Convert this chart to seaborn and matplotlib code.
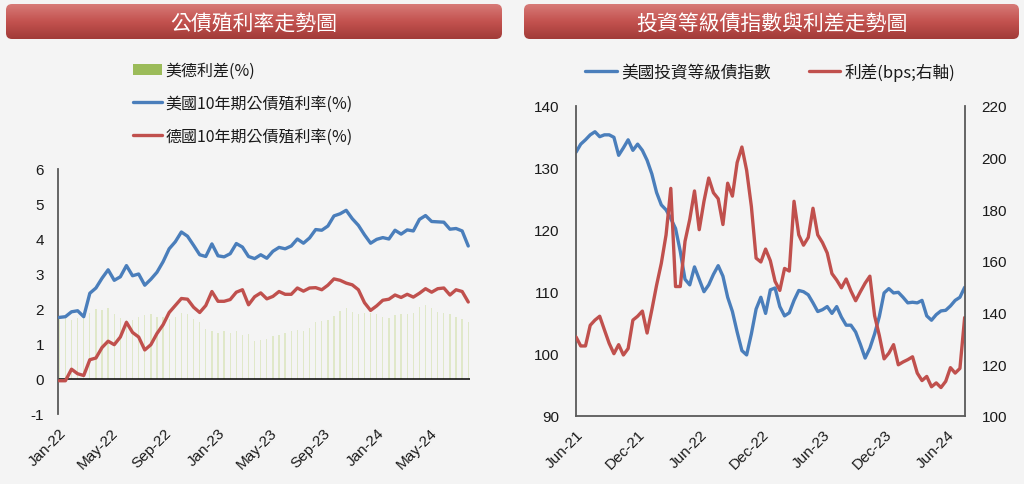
import numpy as np
import pandas as pd
import matplotlib
matplotlib.use("Agg")
import matplotlib.pyplot as plt
import seaborn as sns
from matplotlib.patches import FancyBboxPatch, Patch
from matplotlib.lines import Line2D
from matplotlib.colors import LinearSegmentedColormap

# ---------------- data: left chart (biweekly) ----------------
left_dates = pd.date_range("2022-01-03", periods=68, freq="14D")
us_yield = [1.76, 1.78, 1.92, 1.95, 1.78, 2.45, 2.60, 2.88, 3.12, 2.82,
            2.92, 3.24, 2.95, 3.00, 2.68, 2.85, 3.05, 3.35, 3.72, 3.92,
            4.20, 4.08, 3.82, 3.55, 3.50, 3.86, 3.52, 3.49, 3.58, 3.87,
            3.77, 3.50, 3.44, 3.55, 3.45, 3.65, 3.76, 3.72, 3.80, 4.00,
            3.88, 4.03, 4.27, 4.25, 4.37, 4.66, 4.72, 4.82, 4.58, 4.39,
            4.12, 3.88, 3.99, 4.04, 4.00, 4.25, 4.14, 4.26, 4.23, 4.56,
            4.67, 4.50, 4.49, 4.48, 4.28, 4.30, 4.23, 3.80]
de_yield = [-0.05, -0.05, 0.28, 0.15, 0.10, 0.55, 0.60, 0.90, 1.08, 0.98,
            1.20, 1.62, 1.33, 1.20, 0.83, 0.98, 1.30, 1.55, 1.90, 2.10,
            2.30, 2.28, 2.05, 1.90, 2.10, 2.50, 2.22, 2.22, 2.27, 2.48,
            2.55, 2.12, 2.35, 2.46, 2.29, 2.36, 2.50, 2.42, 2.42, 2.60,
            2.51, 2.60, 2.61, 2.55, 2.68, 2.86, 2.82, 2.74, 2.69, 2.55,
            2.18, 1.96, 2.09, 2.25, 2.28, 2.40, 2.33, 2.42, 2.34, 2.45,
            2.58, 2.48, 2.58, 2.60, 2.40, 2.55, 2.50, 2.20]
us_de_spread = [1.75, 1.78, 1.70, 1.75, 1.78, 1.90, 2.00, 1.98, 2.02, 1.85,
                1.75, 1.68, 1.70, 1.78, 1.82, 1.86, 1.78, 1.76, 1.72, 1.78,
                1.88, 1.85, 1.72, 1.62, 1.42, 1.36, 1.32, 1.36, 1.32, 1.38,
                1.25, 1.30, 1.10, 1.12, 1.15, 1.22, 1.26, 1.32, 1.38, 1.40,
                1.38, 1.45, 1.62, 1.66, 1.70, 1.80, 1.95, 2.02, 1.92, 1.86,
                1.90, 1.90, 1.85, 1.78, 1.75, 1.82, 1.85, 1.86, 1.88, 2.05,
                2.12, 2.02, 1.92, 1.90, 1.86, 1.78, 1.72, 1.62]
left_tick_dates = ["2022-01-01", "2022-05-01", "2022-09-01", "2023-01-01",
                   "2023-05-01", "2023-09-01", "2024-01-01", "2024-05-01"]
left_tick_labels = ["Jan-22", "May-22", "Sep-22", "Jan-23",
                    "May-23", "Sep-23", "Jan-24", "May-24"]
left_yticks = [-1, 0, 1, 2, 3, 4, 5, 6]

# ---------------- data: right chart (biweekly) ----------------
right_dates = pd.date_range("2021-06-01", periods=83, freq="14D")
ig_index = [132.5, 133.8, 134.5, 135.3, 135.8, 135.0, 135.3, 135.3, 134.9, 132.0,
            133.2, 134.5, 132.8, 133.8, 132.8, 131.2, 129.0, 126.0, 124.0, 123.2,
            121.8, 120.2, 116.5, 112.0, 111.1, 114.0, 112.0, 110.0, 111.1, 112.8,
            114.2, 112.5, 109.1, 106.8, 103.5, 100.5, 99.8, 103.2, 107.2, 109.1,
            106.5, 110.3, 110.6, 107.6, 106.1, 106.6, 108.6, 110.2, 110.0, 109.5,
            108.2, 106.8, 107.1, 107.6, 106.5, 107.6, 105.9, 104.6, 104.6, 103.5,
            101.5, 99.3, 100.9, 103.2, 106.0, 109.8, 110.5, 109.8, 109.9, 109.1,
            108.2, 108.3, 108.2, 108.6, 106.1, 105.4, 106.3, 106.9, 107.0, 107.7,
            108.6, 109.1, 110.7]
ig_spread_bps = [130.5, 127.0, 127.0, 135.0, 137.0, 138.5, 133.2, 128.0, 124.0, 127.5,
                 123.5, 126.0, 137.0, 138.5, 140.5, 132.0, 141.0, 150.5, 159.0, 170.0,
                 188.0, 150.0, 150.0, 167.5, 176.0, 187.0, 172.0, 183.0, 192.0, 186.3,
                 184.0, 174.0, 190.0, 185.0, 198.0, 204.0, 195.0, 181.0, 161.0, 159.5,
                 164.5, 160.0, 152.0, 148.5, 157.0, 156.0, 183.0, 170.0, 166.0, 169.0,
                 180.3, 170.0, 167.0, 163.0, 155.0, 152.5, 149.5, 152.9, 148.3, 144.5,
                 148.0, 151.3, 154.0, 138.7, 131.0, 122.0, 124.2, 127.5, 119.7, 120.8,
                 121.7, 122.8, 116.5, 113.6, 115.2, 111.2, 112.7, 110.9, 113.3, 118.6,
                 116.5, 118.3, 138.0]
right_tick_dates = ["2021-06-01", "2021-12-01", "2022-06-01", "2022-12-01",
                    "2023-06-01", "2023-12-01", "2024-06-01"]
right_tick_labels = ["Jun-21", "Dec-21", "Jun-22", "Dec-22",
                     "Jun-23", "Dec-23", "Jun-24"]
left_axis_ticks = [90, 100, 110, 120, 130, 140]
right_axis_ticks = [100, 120, 140, 160, 180, 200, 220]

# ---------------- style ----------------
sns.set_theme(style="white")
plt.rcParams["font.family"] = ["Liberation Sans", "Noto Sans CJK TC", "DejaVu Sans"]
plt.rcParams["axes.unicode_minus"] = False
CJK = ["Noto Sans CJK TC", "DejaVu Sans"]

BLUE = "#4a7ebb"
RED = "#c0504d"
GREEN = "#9bbb59"
BAR = "#e0e8c9"
SPINE = "#5a5a5a"
TXT = "#1a1a1a"

W, H = 1024, 485
fig = plt.figure(figsize=(W / 100, H / 100), dpi=100)
fig.patch.set_facecolor("#f4f4f4")


def fx(px):
    return px / W


def fy(py):
    return 1 - py / H


def banner(x0, y0, x1, y1, text):
    ax = fig.add_axes([fx(x0), fy(y1), fx(x1 - x0), (y1 - y0) / H])
    w, h = x1 - x0, y1 - y0
    ax.set_xlim(0, w)
    ax.set_ylim(0, h)
    ax.axis("off")
    grad = np.linspace(0, 1, 100).reshape(-1, 1)
    cmap = LinearSegmentedColormap.from_list("bn", ["#d77a77", "#c3524f", "#a13b38"])
    im = ax.imshow(grad, extent=[0, w, 0, h], aspect="auto", cmap=cmap, origin="upper")
    patch = FancyBboxPatch((0, 0), w, h, boxstyle="round,pad=0,rounding_size=6",
                           facecolor="none", edgecolor="none")
    ax.add_patch(patch)
    im.set_clip_path(patch)
    ax.text(w / 2, h / 2 - 1.5, text, color="white", fontsize=15, family=CJK,
            ha="center", va="center")


banner(6, 5, 502, 40, "公債殖利率走勢圖")
banner(524, 5, 1019, 40, "投資等級債指數與利差走勢圖")

# ---------------- left chart ----------------
ax1 = fig.add_axes([fx(58), fy(415), fx(412), 245 / H])
ax1.set_facecolor("none")
ax1.bar(left_dates, us_de_spread, width=3, color=BAR, zorder=1, linewidth=0)
sns.lineplot(x=left_dates, y=us_yield, ax=ax1, color=BLUE, linewidth=2.4, zorder=3)
sns.lineplot(x=left_dates, y=de_yield, ax=ax1, color=RED, linewidth=2.4, zorder=3)
ax1.axhline(0, color="black", linewidth=1.1, zorder=2)
ax1.set_ylim(-1, 6)
ax1.set_yticks(left_yticks)
ax1.set_yticklabels([str(v) for v in left_yticks])
ax1.set_xlim(pd.Timestamp("2021-12-31"), pd.Timestamp("2024-08-02"))
ax1.set_xticks(pd.to_datetime(left_tick_dates))
ax1.set_xticklabels(left_tick_labels, rotation=45, ha="right", rotation_mode="anchor")
ax1.set_xlabel("")
ax1.set_ylabel("")
for s in ["top", "right", "bottom"]:
    ax1.spines[s].set_visible(False)
ax1.spines["left"].set_color(SPINE)
ax1.spines["left"].set_linewidth(1.3)
ax1.tick_params(axis="y", length=0, labelsize=11, pad=10, labelcolor=TXT)
ax1.tick_params(axis="x", length=0, labelsize=11, pad=8, labelcolor=TXT)

fig.legend(handles=[Patch(facecolor=GREEN, edgecolor="none"),
                    Line2D([0], [0], color=BLUE, lw=2.4),
                    Line2D([0], [0], color=RED, lw=2.4)],
           labels=["美德利差(%)", "美國10年期公債殖利率(%)", "德國10年期公債殖利率(%)"],
           loc="upper left", bbox_to_anchor=(fx(133), fy(63)), frameon=False,
           prop={"family": CJK, "size": 11.5}, handlelength=1.8, handleheight=0.7,
           handletextpad=0.25, labelspacing=1.0, borderpad=0, borderaxespad=0,
           labelcolor=TXT)

# ---------------- right chart ----------------
ax2 = fig.add_axes([fx(576), fy(416.7), fx(389), 310 / H])
ax2.set_facecolor("none")
sns.lineplot(x=right_dates, y=ig_index, ax=ax2, color=BLUE, linewidth=2.4)
ax3 = ax2.twinx()
sns.lineplot(x=right_dates, y=ig_spread_bps, ax=ax3, color=RED, linewidth=2.4)
ax2.set_ylim(90, 140)
ax3.set_ylim(100, 220)
ax2.set_yticks(left_axis_ticks)
ax2.set_yticklabels([str(v) for v in left_axis_ticks])
ax3.set_yticks(right_axis_ticks)
ax3.set_yticklabels([str(v) for v in right_axis_ticks])
ax2.set_xlim(pd.Timestamp("2021-06-01"), pd.Timestamp("2024-07-24"))
ax2.set_xticks(pd.to_datetime(right_tick_dates))
ax2.set_xticklabels(right_tick_labels, rotation=45, ha="right", rotation_mode="anchor")
for a in (ax2, ax3):
    a.set_xlabel("")
    a.set_ylabel("")
    a.spines["top"].set_visible(False)
    for s in ["left", "right", "bottom"]:
        a.spines[s].set_color(SPINE)
        a.spines[s].set_linewidth(1.3)
ax2.spines["right"].set_visible(False)
ax3.spines["left"].set_visible(False)
ax3.spines["bottom"].set_visible(False)
ax2.tick_params(axis="y", length=0, labelsize=11, pad=12, labelcolor=TXT)
ax3.tick_params(axis="y", length=0, labelsize=11, pad=12, labelcolor=TXT)
ax2.tick_params(axis="x", length=0, labelsize=11, pad=8, labelcolor=TXT)

fig.legend(handles=[Line2D([0], [0], color=BLUE, lw=2.4),
                    Line2D([0], [0], color=RED, lw=2.4)],
           labels=["美國投資等級債指數", "利差(bps;右軸)"],
           loc="upper left", bbox_to_anchor=(fx(585), fy(64)), frameon=False, ncol=2,
           prop={"family": CJK, "size": 12}, handlelength=1.9, handletextpad=0.25,
           columnspacing=2.3, borderpad=0, borderaxespad=0, labelcolor=TXT)

fig.savefig("out.png", dpi=100, facecolor=fig.get_facecolor())
